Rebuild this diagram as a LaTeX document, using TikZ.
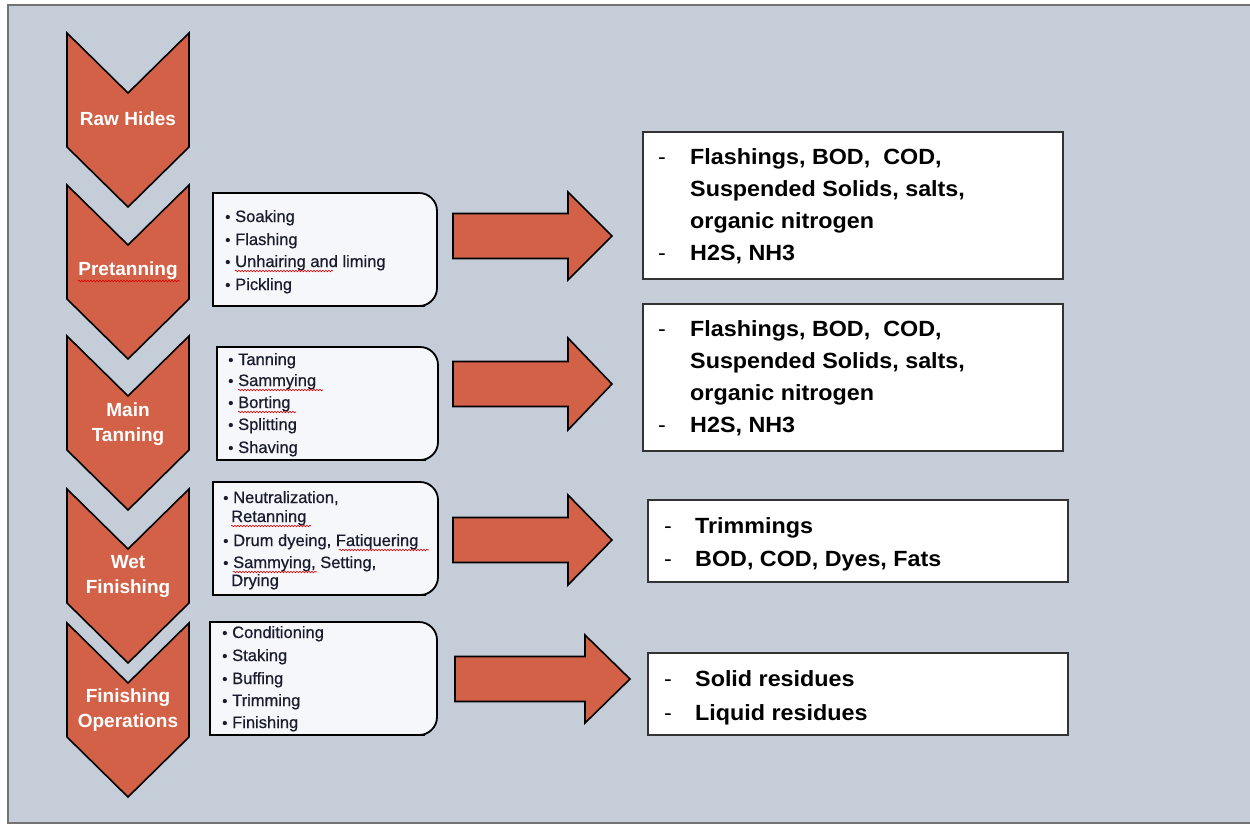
\documentclass[tikz,border=0pt]{standalone}
\usepackage{fontspec}
\setmainfont{Liberation Sans}
\newfontfamily\listfont[FakeBold=0.6]{Liberation Sans}
\newfontfamily\outfont[FakeStretch=1.06]{Liberation Sans}
\usetikzlibrary{decorations.pathmorphing}
\definecolor{bg}{RGB}{197,206,216}
\definecolor{chev}{RGB}{210,97,72}
\definecolor{listfill}{RGB}{246,247,251}
\definecolor{listtext}{RGB}{25,28,45}
\tikzset{
  chevronshape/.style={fill=chev, draw=black, line width=1.6pt, line join=miter},
  chevlabel/.style={text=white, font=\bfseries\fontsize{19}{25}\selectfont, align=center, inner sep=0},
  listbox/.style={fill=listfill, draw=black, line width=1.8pt},
  listtxt/.style={anchor=base west, text=listtext, font=\listfont\fontsize{16.5}{19}\selectfont, inner sep=0},
  listbul/.style={anchor=base west, text=listtext, font=\listfont\fontsize{15}{17}\selectfont, inner sep=0},
  outbox/.style={fill=white, draw=black!80, line width=1.5pt},
  outtxt/.style={anchor=base west, font=\outfont\bfseries\fontsize{22}{32}\selectfont, inner sep=0},
  outdash/.style={anchor=base west, font=\outfont\fontsize{22}{32}\selectfont, inner sep=0},
  bigarrow/.style={fill=chev, draw=black, line width=1.6pt, line join=miter},
  spell/.style={draw=red!85!black, line width=0.6pt, decorate, decoration={snake, amplitude=0.8pt, segment length=3pt}},
}
\newcommand{\mychev}[1]{\draw[chevronshape] (67,#1) -- (128,#1+60) -- (189,#1) -- (189,#1+114) -- (128,#1+174) -- (67,#1+114) -- cycle;}
\newcommand{\mylistbox}[4]{\draw[listbox] (#1,#2) -- (#3-30,#2) [rounded corners=18pt] -- (#3,#2) -- (#3,#4) -- (#3-30,#4) [sharp corners] -- (#1,#4) -- cycle;}
% shaft start, head start, tip, center y, shaft half, head half
\newcommand{\myarrow}[6]{\draw[bigarrow] (#1,#4-#5) -- (#2,#4-#5) -- (#2,#4-#6) -- (#3,#4) -- (#2,#4+#6) -- (#2,#4+#5) -- (#1,#4+#5) -- cycle;}
\begin{document}
\begin{tikzpicture}[x=1pt,y=-1pt]
\useasboundingbox (0,0) rectangle (1250,825);
\fill[white] (0,0) rectangle (1250,825);
\draw[fill=bg, draw=black!55, line width=1.5pt] (8,5) rectangle (1262,823);

% chevrons
\mychev{33}
\mychev{185}
\mychev{336}
\mychev{489}
\mychev{623}
\node[chevlabel] (c1) at (128,119) {Raw Hides};
\node[chevlabel] (c2) at (128,271) {Pretanning};
\node[chevlabel] (c3) at (128,424) {Main\\Tanning};
\node[chevlabel] (c4) at (128,576) {Wet\\Finishing};
\node[chevlabel] (c5) at (128,710) {Finishing\\Operations};
\draw[spell] (78,281) -- (180,281);

% list boxes
\mylistbox{213}{193}{437}{306}
\mylistbox{217}{347}{438}{460}
\mylistbox{213}{482}{438}{595}
\mylistbox{210}{622}{437}{735}

% Pretanning list
\foreach \y/\t [count=\i] in {222/Soaking,245/Flashing,267/Unhairing and liming,290/Pickling}{
  \node[listbul] (pb\i) at (225,\y) {•};
  \node[listtxt] (pt\i) at (235,\y) {\t};
}
\draw[spell] (235,271) -- (333,271);

% Main tanning list
\foreach \y/\t [count=\i] in {365/Tanning,386/Sammying,408/Borting,430/Splitting,453/Shaving}{
  \node[listbul] (mb\i) at (228,\y) {•};
  \node[listtxt] (mt\i) at (238,\y) {\t};
}
\draw[spell] (238,390) -- (323,390);
\draw[spell] (238,412) -- (296,412);

% Wet finishing list
\node[listbul] (wb1) at (223,503) {•};
\node[listtxt] (wt1) at (233,503) {Neutralization,};
\node[listtxt] (wt2) at (231,522) {Retanning};
\node[listbul] (wb2) at (223,546) {•};
\node[listtxt] (wt3) at (233,546) {Drum dyeing, Fatiquering};
\node[listbul] (wb3) at (223,568) {•};
\node[listtxt] (wt4) at (233,568) {Sammying, Setting,};
\node[listtxt] (wt5) at (231,586) {Drying};
\draw[spell] (231,526) -- (311,526);
\draw[spell] (339,550) -- (429,550);
\draw[spell] (233,572) -- (317,572);

% Finishing list
\foreach \y/\t [count=\i] in {638/Conditioning,661/Staking,684/Buffing,706/Trimming,728/Finishing}{
  \node[listbul] (fb\i) at (222,\y) {•};
  \node[listtxt] (ft\i) at (232,\y) {\t};
}

% arrows
\myarrow{453}{568}{612}{236}{22.5}{44}
\myarrow{453}{568}{612}{384}{22.5}{46}
\myarrow{453}{568}{612}{540}{22.5}{45}
\myarrow{455}{585}{630}{679}{22.5}{44}

% output boxes
\draw[outbox] (643,132) rectangle (1063,279);
\node[outdash] (o1d1) at (658,164) {-};
\node[outtxt] (o1a) at (690,164) {Flashings, BOD,\ \ COD,};
\node[outtxt] (o1b) at (690,196) {Suspended Solids, salts,};
\node[outtxt] (o1c) at (690,228) {organic nitrogen};
\node[outdash] (o1d2) at (658,260) {-};
\node[outtxt] (o1d) at (690,260) {H2S, NH3};

\draw[outbox] (643,304) rectangle (1063,451);
\node[outdash] (o2d1) at (658,336) {-};
\node[outtxt] (o2a) at (690,336) {Flashings, BOD,\ \ COD,};
\node[outtxt] (o2b) at (690,368) {Suspended Solids, salts,};
\node[outtxt] (o2c) at (690,400) {organic nitrogen};
\node[outdash] (o2d2) at (658,432) {-};
\node[outtxt] (o2d) at (690,432) {H2S, NH3};

\draw[outbox] (648,500) rectangle (1068,582);
\node[outdash] (o3d1) at (664,533) {-};
\node[outtxt] (o3a) at (695,533) {Trimmings};
\node[outdash] (o3d2) at (664,566) {-};
\node[outtxt] (o3b) at (695,566) {BOD, COD, Dyes, Fats};

\draw[outbox] (648,653) rectangle (1068,735);
\node[outdash] (o4d1) at (664,686) {-};
\node[outtxt] (o4a) at (695,686) {Solid residues};
\node[outdash] (o4d2) at (664,720) {-};
\node[outtxt] (o4b) at (695,720) {Liquid residues};
\end{tikzpicture}
\end{document}
